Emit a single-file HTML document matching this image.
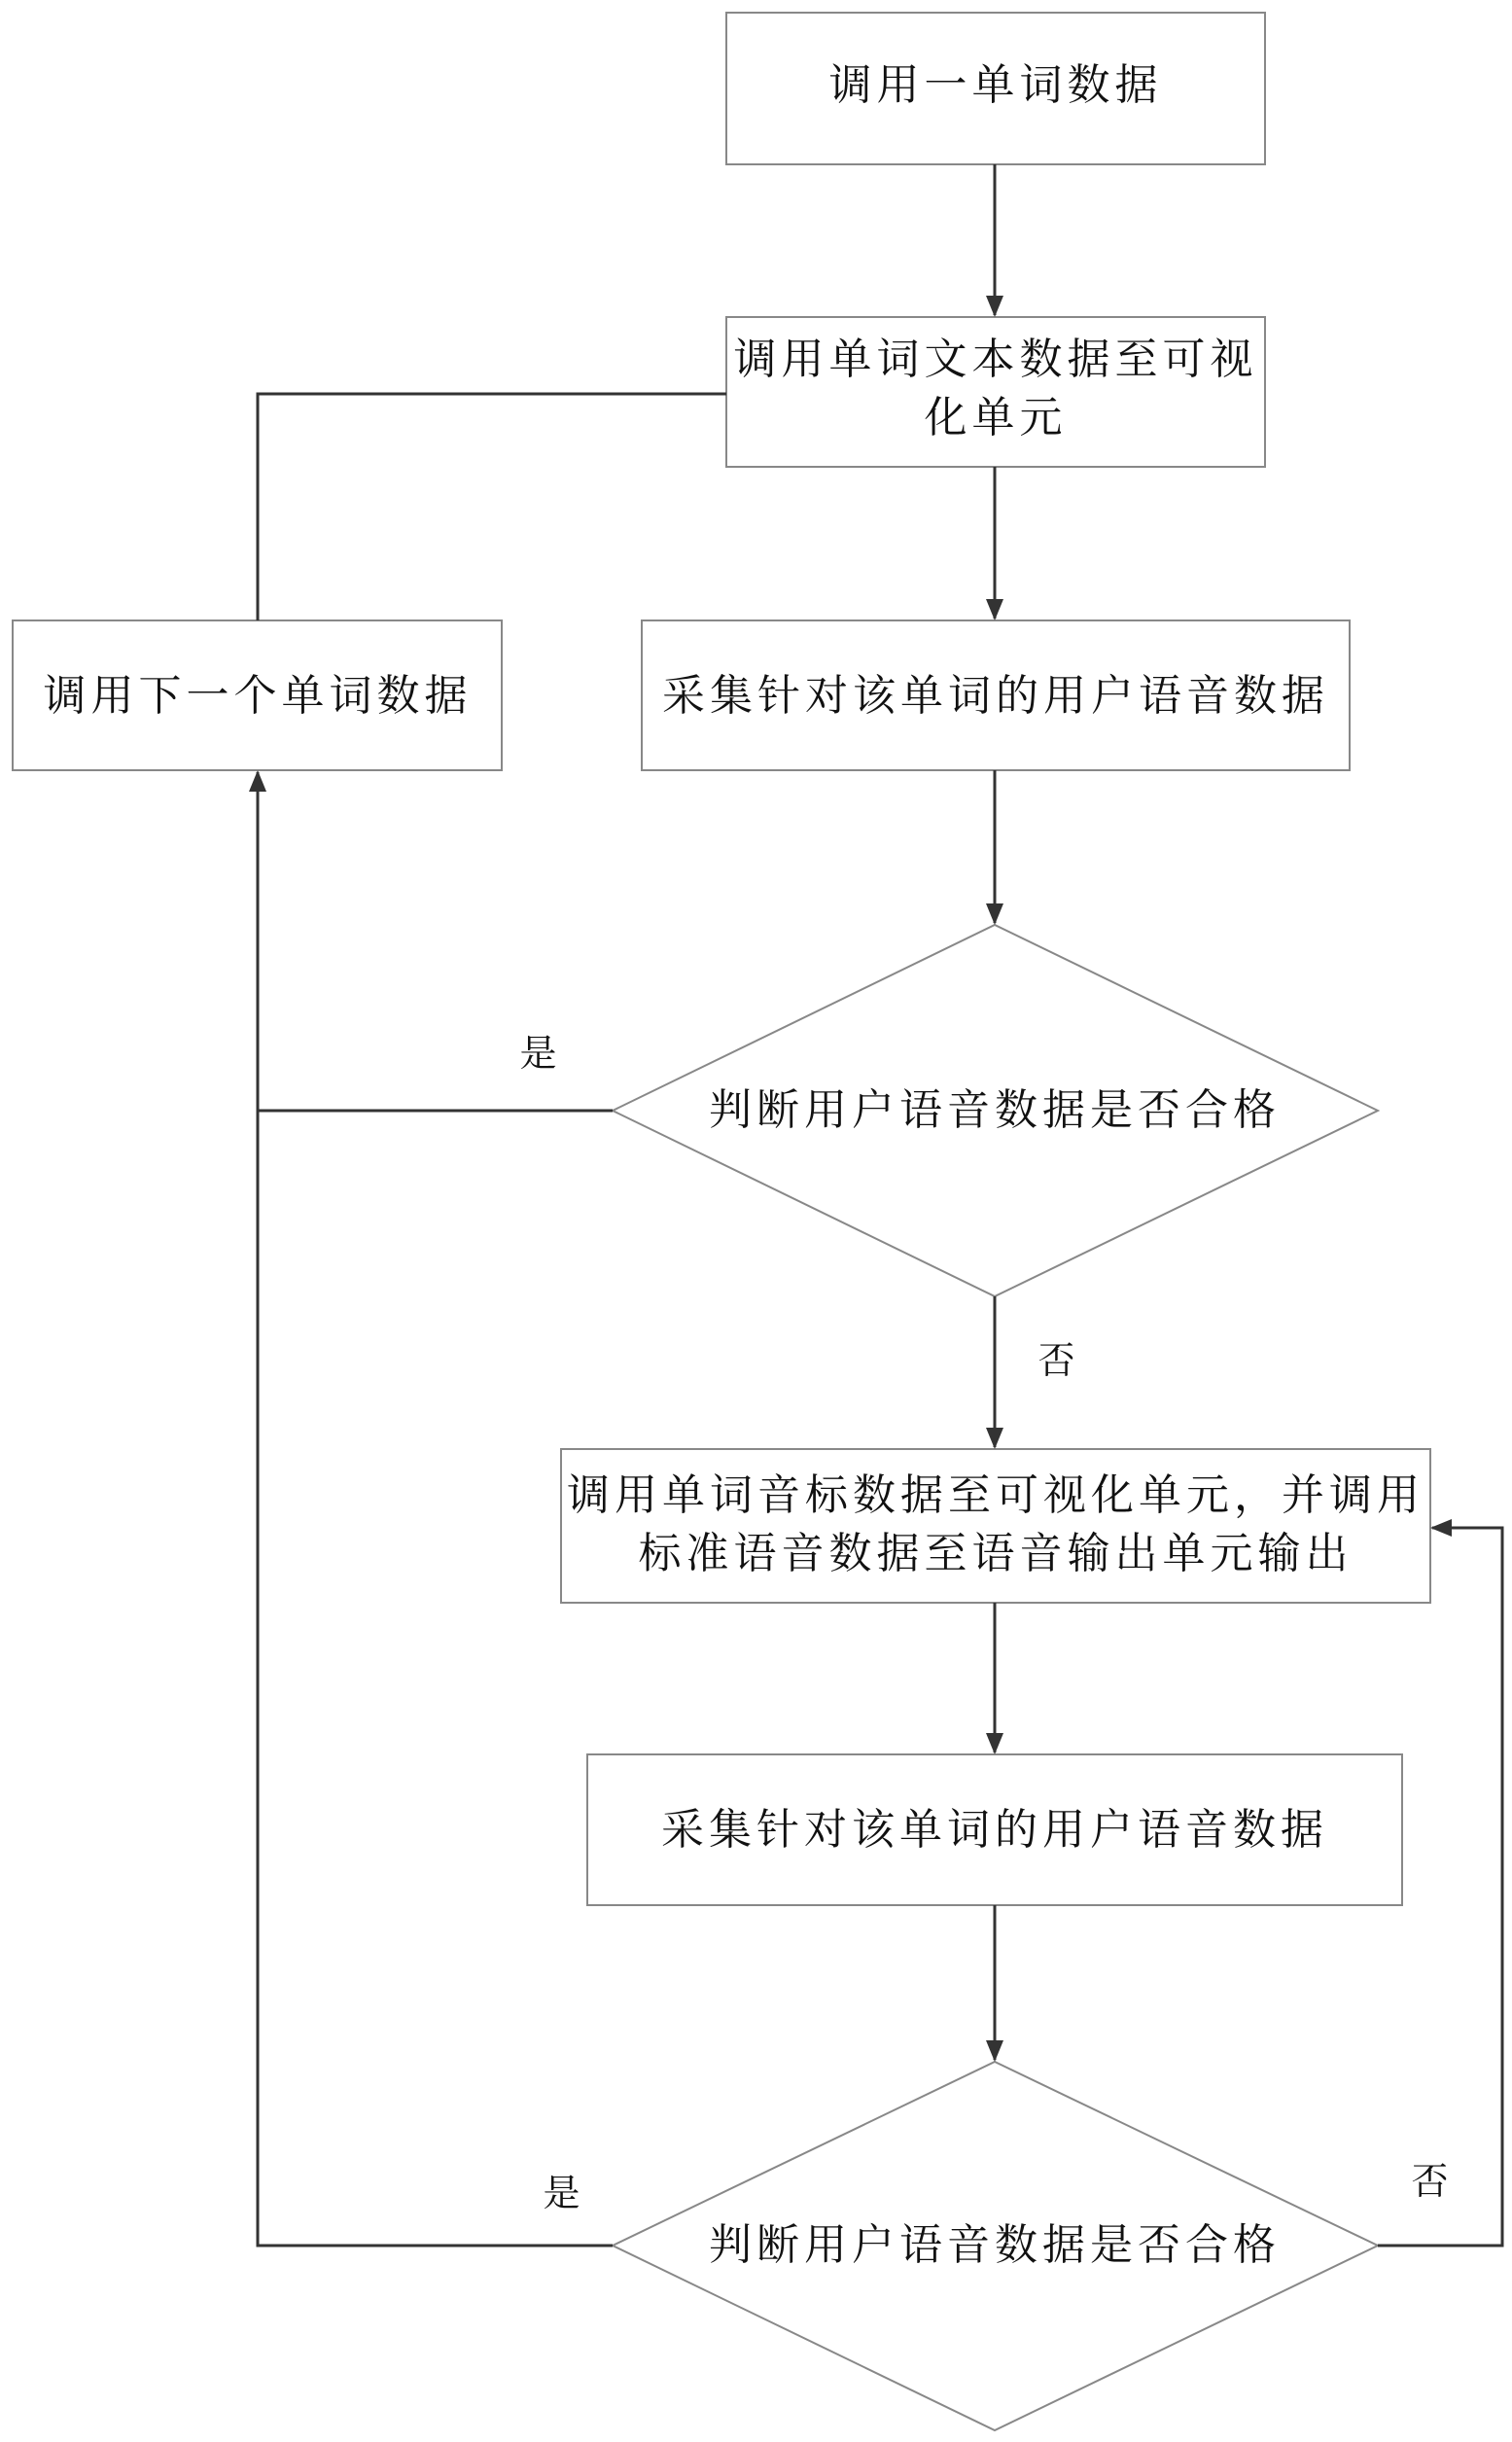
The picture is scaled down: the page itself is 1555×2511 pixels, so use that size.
<!DOCTYPE html>
<html><head><meta charset="utf-8"><style>
html,body{margin:0;padding:0;background:#fff;}
svg{display:block;}
text{font-family:"Liberation Serif","Noto Serif CJK SC","Noto Sans CJK SC",serif;font-size:44px;fill:#111;text-anchor:middle;letter-spacing:5px;}
</style></head><body>
<svg width="1555" height="2511" viewBox="0 0 1555 2511" xmlns="http://www.w3.org/2000/svg">
<defs><marker id="a" markerWidth="10" markerHeight="10" refX="9" refY="5" orient="auto" markerUnits="userSpaceOnUse" viewBox="0 0 10 10"><path d="M0,0 L10,5 L0,10 z" fill="#333"/></marker>
<marker id="b" markerWidth="22" markerHeight="22" refX="20" refY="11" orient="auto" markerUnits="userSpaceOnUse" viewBox="0 0 22 22"><path d="M0,2 L22,11 L0,20 z" fill="#333"/></marker></defs>
<g fill="#fff" stroke="#888" stroke-width="2">
<rect x="747" y="13" width="554" height="156"/>
<rect x="747" y="326" width="554" height="154"/>
<rect x="13" y="638" width="503" height="154"/>
<rect x="660" y="638" width="728" height="154"/>
<polygon points="630,1142 1023,951 1417,1142 1023,1333"/>
<rect x="577" y="1490" width="894" height="158"/>
<rect x="604" y="1804" width="838" height="155"/>
<polygon points="630,2309 1023,2120 1417,2309 1023,2499"/>
</g>
<g stroke="#333" stroke-width="3" fill="none">
<line x1="1023" y1="169" x2="1023" y2="324" marker-end="url(#b)"/>
<line x1="1023" y1="480" x2="1023" y2="636" marker-end="url(#b)"/>
<line x1="1023" y1="792" x2="1023" y2="949" marker-end="url(#b)"/>
<line x1="1023" y1="1333" x2="1023" y2="1488" marker-end="url(#b)"/>
<line x1="1023" y1="1648" x2="1023" y2="1802" marker-end="url(#b)"/>
<line x1="1023" y1="1959" x2="1023" y2="2118" marker-end="url(#b)"/>
<polyline points="747,405 265,405 265,638"/>
<line x1="630" y1="1142" x2="265" y2="1142"/>
<polyline points="630,2309 265,2309 265,794" marker-end="url(#b)"/>
<polyline points="1417,2309 1545,2309 1545,1571 1473,1571" marker-end="url(#b)"/>
</g>
<text x="1024" y="102">调用一单词数据</text>
<text x="1024" y="384">调用单词文本数据至可视</text>
<text x="1024" y="444">化单元</text>
<text x="265" y="730">调用下一个单词数据</text>
<text x="1024" y="730">采集针对该单词的用户语音数据</text>
<text x="1023" y="1156">判断用户语音数据是否合格</text>
<text x="1024" y="1552">调用单词音标数据至可视化单元，并调用</text>
<text x="1024" y="1612">标准语音数据至语音输出单元输出</text>
<text x="1023" y="1896">采集针对该单词的用户语音数据</text>
<text x="1023" y="2323">判断用户语音数据是否合格</text>
<text x="556" y="1096" style="font-size:38px">是</text>
<text x="580" y="2268" style="font-size:38px">是</text>
<text x="1089" y="1412" style="font-size:38px">否</text>
<text x="1473" y="2256" style="font-size:38px">否</text>
</svg>
</body></html>
